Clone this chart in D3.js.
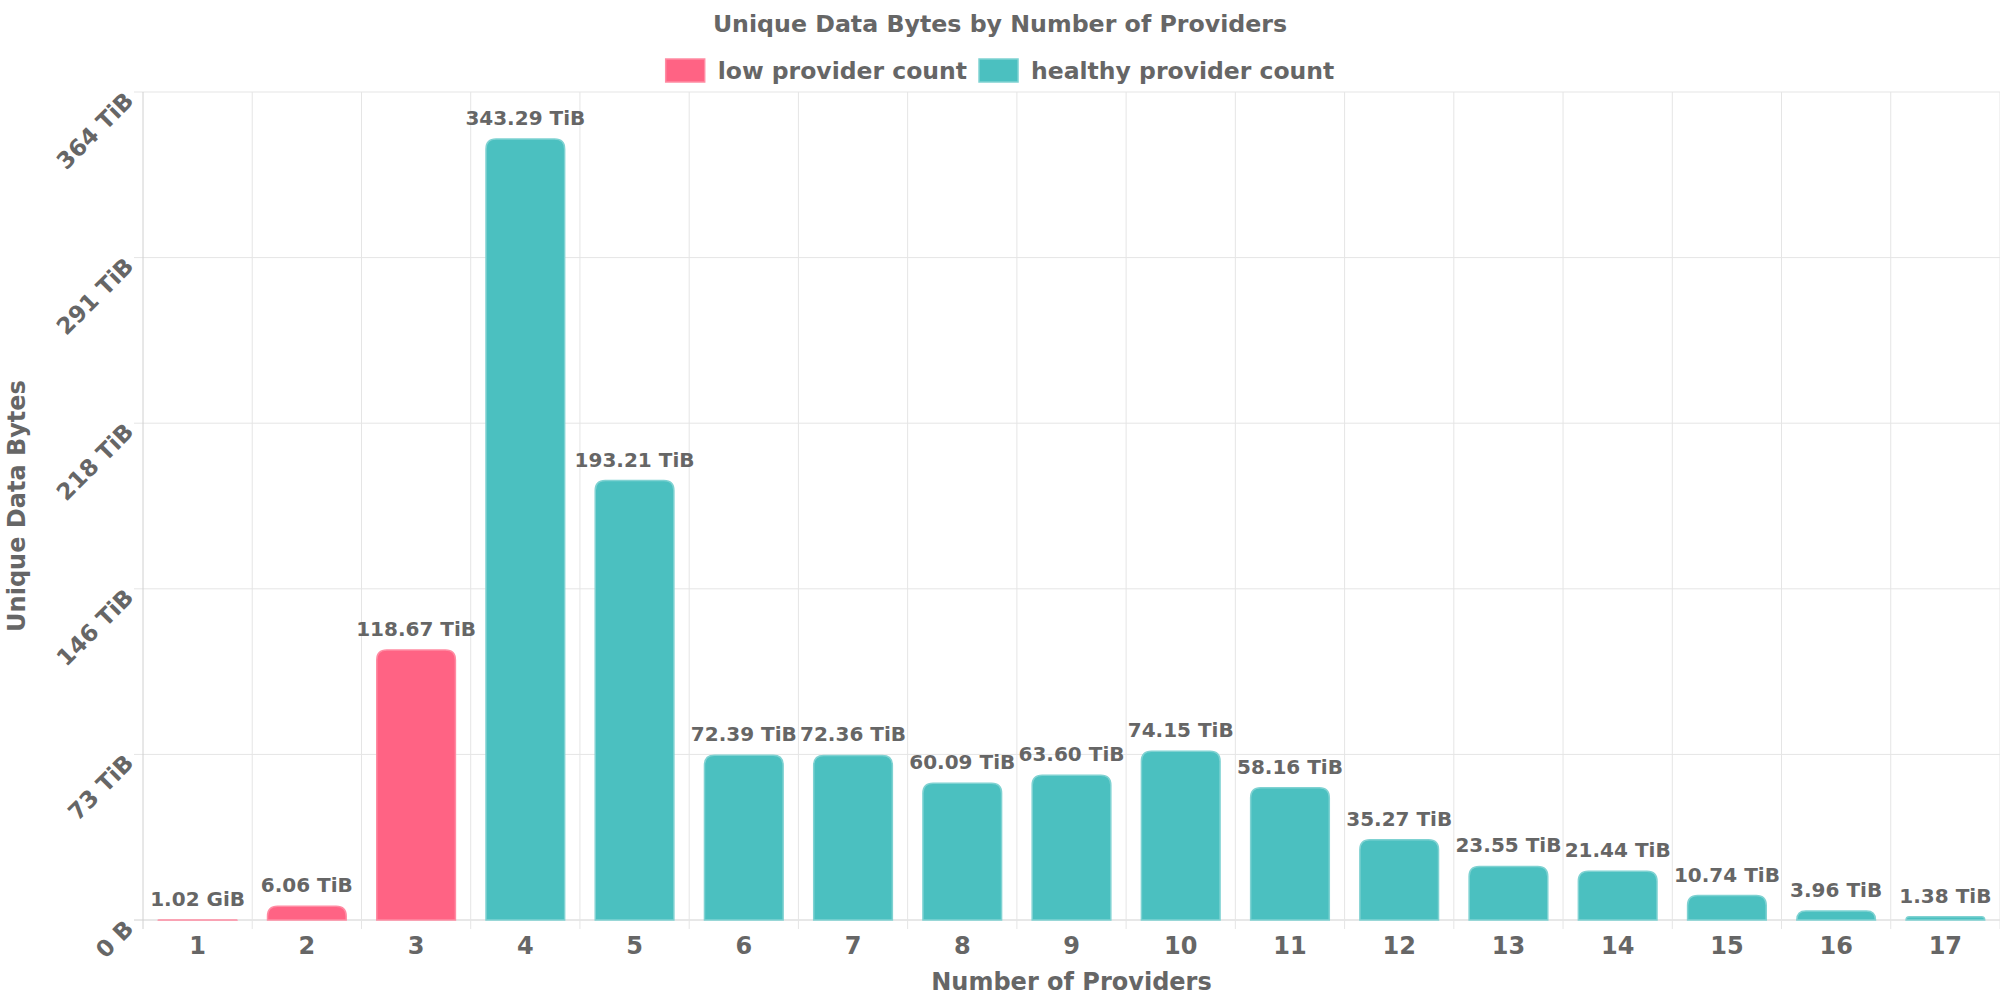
<!DOCTYPE html>
<html>
<head>
<meta charset="utf-8">
<script src="https://cdn.jsdelivr.net/npm/d3@7"></script>
<style>
  html, body { margin: 0; padding: 0; background: #fff; }
  svg { display: block; }
  text { font-family: "DejaVu Sans", sans-serif; font-weight: bold; fill: #666; }
</style>
</head>
<body>
<svg id="chart" width="2000" height="1000"></svg>
<script>
// ---- data ----
const categories = ["1","2","3","4","5","6","7","8","9","10","11","12","13","14","15","16","17"];
// values in TiB (first one is 1.02 GiB)
const valuesTiB = [1.02/1024, 6.06, 118.67, 343.29, 193.21, 72.39, 72.36, 60.09, 63.60, 74.15, 58.16, 35.27, 23.55, 21.44, 10.74, 3.96, 1.38];
const valueLabels = ["1.02 GiB","6.06 TiB","118.67 TiB","343.29 TiB","193.21 TiB","72.39 TiB","72.36 TiB","60.09 TiB","63.60 TiB","74.15 TiB","58.16 TiB","35.27 TiB","23.55 TiB","21.44 TiB","10.74 TiB","3.96 TiB","1.38 TiB"];
const seriesOf = ["low","low","low","healthy","healthy","healthy","healthy","healthy","healthy","healthy","healthy","healthy","healthy","healthy","healthy","healthy","healthy"];
const seriesNames = ["low provider count","healthy provider count"];
const yTickValues = [0, 72.8, 145.6, 218.4, 291.2, 364];
const yTickLabels = ["0 B","73 TiB","146 TiB","218 TiB","291 TiB","364 TiB"];
const yMax = 364;

// ---- styles ----
const colors = { low: "#ff6384", healthy: "#4bc0c0" };
const strokes = { low: "#ff8ca3", healthy: "#7fd2d2" };
const legendKeys = ["low","healthy"];

const svg = d3.select("#chart");
const pLeft = 143, pRight = 2000, pTop = 92, pBottom = 920;

const x = d3.scaleBand().domain(categories).range([pLeft, pRight]).padding(0);
const y = d3.scaleLinear().domain([0, yMax]).range([pBottom, pTop]);

// grid
const grid = svg.append("g");
grid.selectAll("line.h").data(yTickValues).join("line")
  .attr("x1", pLeft - 9).attr("x2", pRight)
  .attr("y1", d => y(d)).attr("y2", d => y(d))
  .attr("stroke", d => d === 0 ? "#d0d0d0" : "#e5e5e5").attr("stroke-width", 1);
const vlines = categories.map(c => x(c)).concat([pRight]);
grid.selectAll("line.v").data(vlines).join("line")
  .attr("x1", d => d).attr("x2", d => d)
  .attr("y1", pTop).attr("y2", pBottom + 9)
  .attr("stroke", (d,i) => i === 0 ? "#d0d0d0" : "#e5e5e5").attr("stroke-width", 1);

// bars
const barFrac = 0.72;
function barPath(x0, w, yTop, yBot) {
  const h = yBot - yTop;
  const r = Math.max(0, Math.min(10, h, w/2));
  return `M${x0},${yBot} L${x0},${yTop + r} Q${x0},${yTop} ${x0 + r},${yTop} L${x0 + w - r},${yTop} Q${x0 + w},${yTop} ${x0 + w},${yTop + r} L${x0 + w},${yBot} Z`;
}
const bw = x.bandwidth() * barFrac;
svg.append("g").selectAll("path").data(categories).join("path")
  .attr("d", (c, i) => {
    const x0 = x(c) + (x.bandwidth() - bw) / 2;
    return barPath(x0, bw, y(valuesTiB[i]), y(0));
  })
  .attr("fill", (c, i) => colors[seriesOf[i]])
  .attr("stroke", (c, i) => strokes[seriesOf[i]])
  .attr("stroke-width", 1.5);

// value labels
svg.append("g").selectAll("text").data(categories).join("text")
  .attr("x", c => x(c) + x.bandwidth() / 2)
  .attr("y", (c, i) => y(valuesTiB[i]) - 14)
  .attr("text-anchor", "middle")
  .attr("font-size", 20)
  .text((c, i) => valueLabels[i]);

// x tick labels
svg.append("g").selectAll("text").data(categories).join("text")
  .attr("x", c => x(c) + x.bandwidth() / 2)
  .attr("y", 954)
  .attr("text-anchor", "middle")
  .attr("font-size", 24)
  .text(c => c);

// y tick labels
svg.append("g").selectAll("text").data(yTickValues).join("text")
  .attr("transform", d => `translate(135,${y(d) + 10}) rotate(-45)`)
  .attr("text-anchor", "end")
  .attr("font-size", 23)
  .text((d, i) => yTickLabels[i]);

// axis titles
svg.append("text").attr("x", (pLeft + pRight) / 2).attr("y", 990)
  .attr("text-anchor", "middle").attr("font-size", 24).text("Number of Providers");
svg.append("text").attr("transform", `translate(25,${(pTop + pBottom) / 2}) rotate(-90)`)
  .attr("text-anchor", "middle").attr("font-size", 24).text("Unique Data Bytes");

// title
svg.append("text").attr("x", 1000).attr("y", 32)
  .attr("text-anchor", "middle").attr("font-size", 23.7).text("Unique Data Bytes by Number of Providers");

// legend
const lg = svg.append("g");
const items = legendKeys.map((k, i) => {
  const g = lg.append("g");
  g.append("rect").attr("x", 0).attr("y", 59).attr("width", 39).attr("height", 23)
    .attr("fill", colors[k]).attr("stroke", strokes[k]).attr("stroke-width", 1.5);
  const t = g.append("text").attr("x", 52).attr("y", 79).attr("font-size", 23.5).text(seriesNames[i]);
  return { g, w: 52 + t.node().getComputedTextLength() };
});
const gap = 12;
const total = items.reduce((s, it) => s + it.w, 0) + gap * (items.length - 1);
let cx = 1000 - total / 2;
items.forEach(it => { it.g.attr("transform", `translate(${cx},0)`); cx += it.w + gap; });
</script>
</body>
</html>
